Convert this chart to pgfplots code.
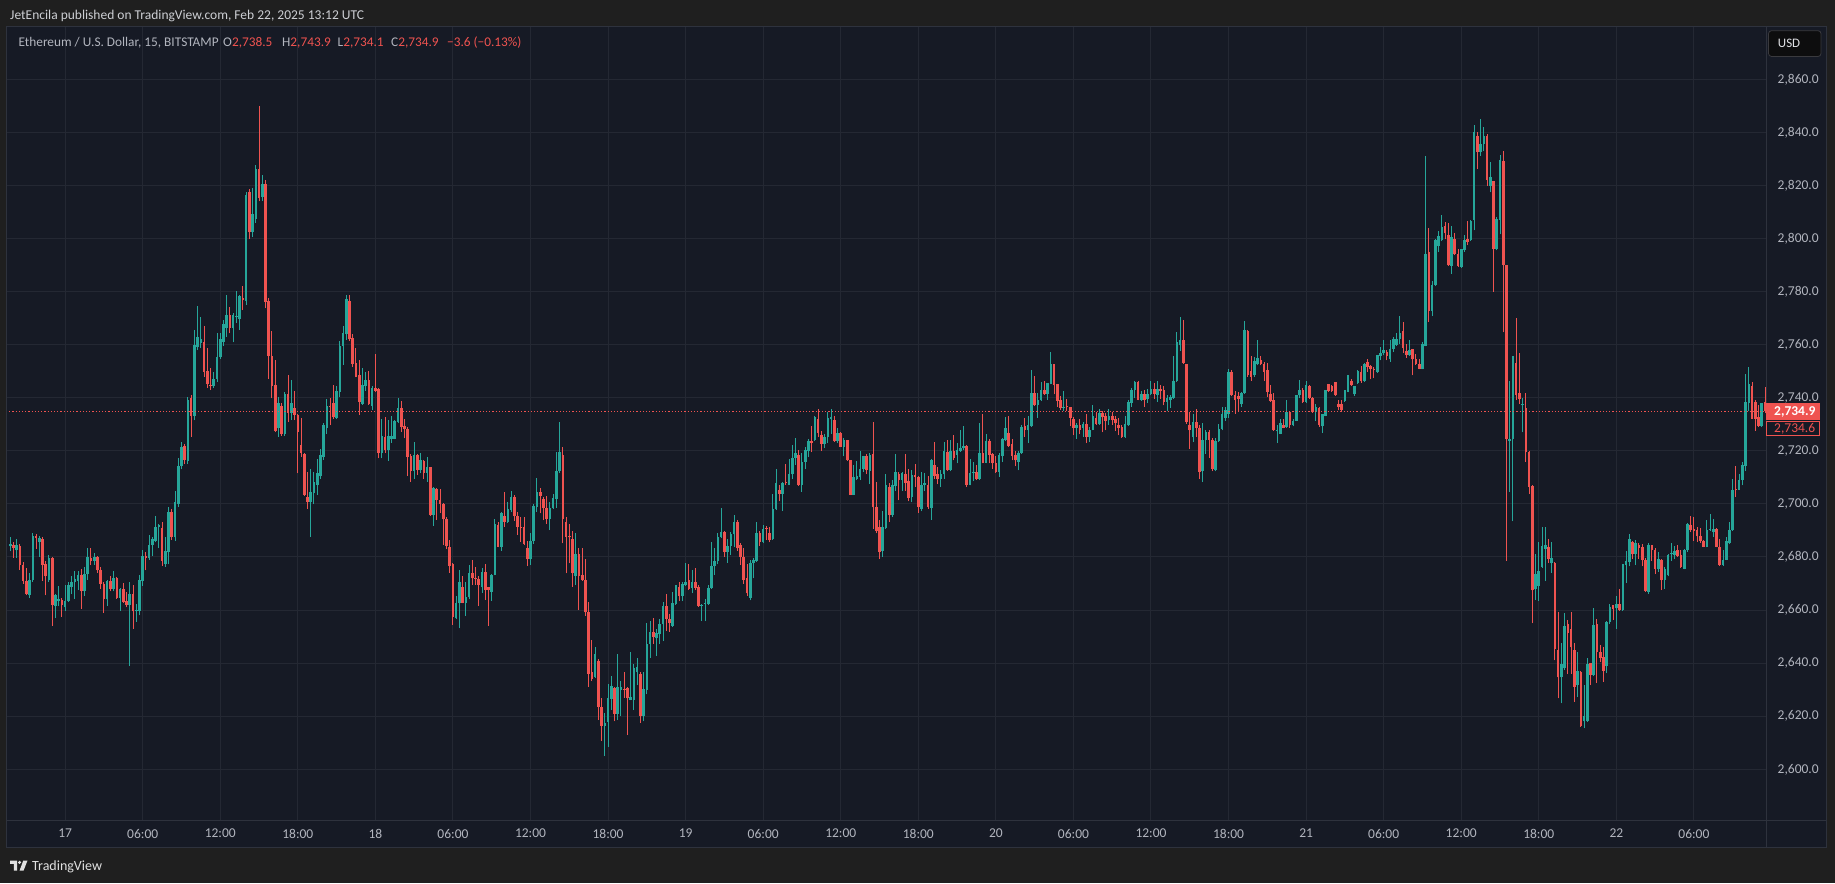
\documentclass[border=0pt]{standalone}
\usepackage{pgfplots}
\pgfplotsset{compat=1.18}
\usepackage{pgfplotstable}
\usepackage{fontspec}
\setmainfont{Carlito}
\definecolor{outerbg}{RGB}{31,31,31}
\definecolor{panelbg}{RGB}{22,26,37}
\definecolor{gridc}{RGB}{36,40,51}
\definecolor{sepc}{RGB}{46,50,61}
\definecolor{txt}{RGB}{178,181,190}
\definecolor{hdr}{RGB}{205,207,212}
\definecolor{upc}{RGB}{38,166,154}
\definecolor{dnc}{RGB}{239,83,80}
\definecolor{usdborder}{RGB}{58,58,62}
\definecolor{usdfill}{RGB}{13,13,14}
\definecolor{usdtext}{RGB}{225,226,230}
\definecolor{logoc}{RGB}{225,225,225}

\pgfplotstableread{
i o h l c
-17 2684.0 2687.7 2682.1 2685.0
-16 2684.5 2685.6 2679.8 2683.5
-15 2682.5 2686.7 2679.8 2684.5
-14 2684.0 2685.0 2675.2 2677.0
-13 2677.0 2678.0 2670.0 2671.0
-12 2671.0 2676.0 2665.5 2666.0
-11 2665.5 2674.0 2664.5 2671.5
-10 2671.5 2689.0 2670.5 2688.0
-9 2688.0 2688.7 2683.0 2687.0
-8 2685.5 2688.0 2680.0 2687.0
-7 2686.6 2687.5 2671.0 2677.0
-6 2677.5 2678.6 2665.5 2672.7
-5 2671.5 2680.7 2670.5 2679.5
-4 2679.5 2680.0 2654.0 2662.0
-3 2661.5 2666.0 2657.0 2665.5
-2 2663.4 2669.0 2661.5 2664.0
-1 2663.7 2664.4 2657.5 2662.0
0 2661.0 2669.5 2659.8 2663.5
1 2663.5 2670.4 2663.0 2669.3
2 2668.7 2672.7 2666.0 2670.4
3 2670.4 2674.6 2664.3 2671.8
4 2671.0 2674.6 2667.6 2673.4
5 2673.4 2675.3 2660.5 2667.0
6 2667.0 2676.4 2665.4 2673.5
7 2673.5 2683.5 2671.5 2680.0
8 2679.5 2683.5 2676.9 2678.5
9 2678.5 2681.5 2677.0 2680.0
10 2680.0 2680.5 2673.9 2675.0
11 2675.0 2676.4 2668.0 2670.0
12 2670.0 2670.5 2659.0 2664.0
13 2664.0 2671.5 2661.5 2671.0
14 2671.0 2672.7 2667.0 2668.0
15 2668.0 2674.6 2667.0 2672.0
16 2672.0 2672.5 2664.3 2664.5
17 2664.5 2668.5 2659.8 2668.0
18 2668.0 2670.2 2662.7 2663.0
19 2663.5 2666.7 2661.0 2662.0
20 2662.0 2670.5 2638.9 2666.0
21 2666.0 2669.4 2653.0 2659.5
22 2659.5 2662.2 2655.6 2660.0
23 2659.6 2673.4 2658.0 2671.2
24 2670.8 2682.5 2669.2 2680.5
25 2680.4 2681.8 2675.0 2679.5
26 2679.5 2688.3 2679.0 2684.5
27 2684.5 2687.6 2680.3 2686.7
28 2686.0 2695.5 2685.5 2691.4
29 2691.4 2692.3 2683.4 2691.9
30 2690.8 2693.0 2676.7 2678.4
31 2677.2 2687.6 2676.4 2682.3
32 2681.7 2698.7 2677.2 2696.9
33 2696.9 2697.9 2686.5 2687.6
34 2687.4 2705.0 2686.0 2700.8
35 2700.0 2717.4 2699.0 2714.3
36 2714.3 2723.5 2713.0 2721.5
37 2721.7 2722.6 2715.0 2716.7
38 2716.2 2740.2 2715.0 2739.2
39 2740.0 2741.0 2725.3 2733.2
40 2733.2 2765.7 2731.5 2760.0
41 2759.3 2774.7 2757.9 2762.9
42 2760.5 2770.5 2758.8 2762.0
43 2760.9 2767.0 2747.9 2749.8
44 2750.2 2758.8 2743.6 2745.0
45 2744.9 2751.2 2742.9 2744.3
46 2744.3 2749.8 2743.6 2747.0
47 2747.0 2764.3 2746.0 2755.3
48 2755.3 2764.3 2754.6 2762.2
49 2761.0 2769.2 2759.6 2767.8
50 2766.4 2778.8 2762.9 2771.2
51 2771.2 2774.3 2764.3 2766.4
52 2766.4 2772.0 2760.9 2771.2
53 2770.3 2780.3 2768.1 2770.9
54 2769.8 2778.8 2765.7 2778.4
55 2777.5 2782.2 2773.0 2776.8
56 2776.5 2817.5 2775.0 2816.5
57 2817.5 2818.5 2799.8 2802.3
58 2802.3 2818.9 2800.5 2809.2
59 2807.5 2827.6 2806.0 2826.2
60 2826.2 2850.0 2814.0 2815.4
61 2815.7 2823.9 2814.3 2820.7
62 2820.7 2822.1 2773.7 2776.0
63 2776.5 2777.5 2747.0 2755.8
64 2755.8 2765.3 2739.8 2744.4
65 2744.8 2754.2 2727.0 2727.5
66 2728.5 2740.4 2725.4 2737.9
67 2736.9 2738.0 2725.5 2726.2
68 2726.2 2742.0 2725.6 2741.3
69 2741.3 2748.6 2731.0 2734.4
70 2734.4 2746.7 2731.6 2737.9
71 2736.0 2742.6 2731.6 2733.5
72 2733.5 2734.0 2711.5 2727.2
73 2722.2 2732.3 2717.6 2719.1
74 2718.8 2719.3 2703.0 2703.4
75 2702.7 2712.2 2698.0 2700.8
76 2700.8 2713.0 2687.7 2704.5
77 2704.0 2712.2 2700.0 2708.4
78 2707.2 2716.9 2703.4 2711.8
79 2710.5 2720.6 2709.3 2718.4
80 2717.8 2730.6 2716.6 2729.7
81 2728.7 2739.5 2726.4 2736.9
82 2736.7 2739.8 2729.7 2736.4
83 2738.2 2744.8 2732.0 2732.6
84 2732.3 2744.4 2731.9 2742.6
85 2742.3 2761.2 2740.2 2759.5
86 2759.5 2767.1 2752.4 2764.5
87 2763.9 2778.7 2761.8 2777.2
88 2776.6 2778.7 2761.5 2762.0
89 2762.4 2764.0 2751.5 2752.7
90 2753.0 2758.6 2747.7 2748.0
91 2748.6 2754.2 2733.5 2738.5
92 2737.7 2751.1 2737.3 2744.8
93 2744.4 2749.8 2742.7 2746.7
94 2746.7 2750.2 2737.3 2737.7
95 2737.0 2744.4 2735.4 2743.8
96 2743.6 2756.5 2742.0 2742.7
97 2743.2 2743.5 2717.2 2719.1
98 2719.1 2731.9 2717.2 2725.6
99 2725.1 2732.9 2719.1 2720.3
100 2720.3 2731.6 2716.3 2725.6
101 2724.3 2733.1 2723.1 2725.5
102 2724.5 2731.6 2724.3 2731.4
103 2731.0 2739.8 2730.4 2736.3
104 2736.3 2738.9 2727.2 2729.1
105 2729.5 2731.9 2724.7 2728.2
106 2728.2 2729.0 2710.5 2717.8
107 2718.2 2718.8 2708.4 2712.5
108 2712.5 2723.2 2709.3 2718.4
109 2718.4 2718.9 2710.9 2712.8
110 2712.8 2719.1 2711.5 2716.6
111 2716.0 2716.6 2709.3 2711.8
112 2711.8 2717.8 2708.4 2713.8
113 2713.8 2714.0 2695.5 2695.8
114 2695.8 2706.5 2691.7 2705.9
115 2705.5 2706.0 2694.0 2701.5
116 2701.5 2705.5 2696.5 2700.0
117 2700.0 2700.5 2684.5 2694.2
118 2694.5 2695.1 2682.9 2684.3
119 2683.6 2686.4 2674.0 2676.7
120 2677.4 2677.8 2654.4 2657.5
121 2656.9 2665.3 2656.5 2662.8
122 2662.5 2675.1 2653.1 2670.5
123 2668.6 2672.8 2662.5 2662.8
124 2662.8 2670.7 2657.9 2665.1
125 2664.8 2677.0 2664.0 2673.8
126 2673.8 2678.9 2669.4 2671.9
127 2672.0 2676.4 2669.4 2671.7
128 2671.7 2672.9 2661.5 2669.5
129 2668.6 2675.7 2666.6 2674.2
130 2674.2 2677.4 2663.8 2667.6
131 2668.6 2668.6 2654.0 2667.6
132 2666.9 2673.5 2663.5 2673.3
133 2673.3 2694.2 2673.1 2692.4
134 2692.1 2693.3 2683.6 2683.9
135 2683.9 2696.8 2682.4 2696.5
136 2695.5 2704.6 2691.4 2693.3
137 2693.3 2700.9 2692.9 2698.0
138 2697.7 2705.0 2696.8 2702.7
139 2702.5 2703.4 2693.7 2695.3
140 2695.3 2697.1 2688.3 2691.4
141 2691.4 2694.9 2685.8 2691.0
142 2691.4 2695.2 2684.5 2684.9
143 2683.3 2686.2 2676.6 2679.1
144 2679.1 2688.9 2677.0 2686.0
145 2686.0 2700.0 2684.9 2699.2
146 2698.7 2709.6 2697.1 2704.3
147 2704.3 2706.1 2696.4 2703.0
148 2701.8 2702.7 2693.9 2698.3
149 2698.5 2703.1 2692.4 2694.3
150 2694.3 2700.8 2690.1 2698.3
151 2698.3 2703.6 2698.0 2702.3
152 2702.0 2719.4 2698.5 2712.4
153 2712.4 2730.7 2711.5 2719.6
154 2718.6 2721.5 2685.1 2694.3
155 2693.3 2695.2 2673.8 2687.5
156 2687.9 2692.6 2677.6 2687.4
157 2686.6 2689.7 2668.8 2673.8
158 2672.9 2688.9 2669.4 2681.3
159 2681.0 2683.2 2660.0 2672.9
160 2673.2 2683.2 2671.0 2671.5
161 2671.3 2679.1 2657.8 2659.1
162 2659.1 2662.9 2631.1 2636.1
163 2636.7 2648.9 2633.2 2634.2
164 2634.8 2646.2 2634.5 2643.3
165 2640.9 2641.4 2618.5 2623.5
166 2623.5 2626.9 2610.6 2616.4
167 2616.4 2621.4 2605.0 2617.4
168 2617.8 2632.3 2608.5 2626.7
169 2626.4 2635.2 2622.3 2631.5
170 2630.5 2631.1 2618.1 2621.0
171 2621.0 2643.3 2618.5 2631.1
172 2630.0 2633.2 2620.2 2631.0
173 2630.4 2636.5 2626.9 2630.0
174 2630.5 2631.0 2612.9 2626.7
175 2626.2 2644.3 2626.0 2627.3
176 2626.2 2639.5 2622.3 2638.3
177 2636.5 2642.0 2631.7 2638.5
178 2636.1 2636.5 2617.5 2620.1
179 2620.1 2636.5 2618.1 2630.1
180 2630.0 2655.0 2628.2 2647.4
181 2647.4 2655.8 2642.0 2651.6
182 2651.6 2657.1 2647.4 2650.0
183 2649.3 2652.8 2642.8 2651.2
184 2650.8 2656.8 2647.4 2654.6
185 2654.6 2662.9 2648.3 2661.6
186 2661.6 2665.9 2652.1 2656.6
187 2656.8 2658.7 2651.8 2655.3
188 2654.1 2666.9 2653.7 2662.5
189 2662.1 2669.6 2661.9 2669.4
190 2668.8 2670.7 2663.4 2665.4
191 2665.4 2670.4 2663.4 2670.0
192 2669.6 2677.6 2669.2 2670.6
193 2671.3 2677.2 2667.5 2668.1
194 2668.4 2675.1 2666.3 2670.4
195 2670.6 2675.7 2667.5 2668.4
196 2668.8 2669.4 2661.2 2661.6
197 2661.6 2662.1 2655.8 2662.0
198 2662.2 2664.1 2655.8 2662.6
199 2662.1 2669.4 2661.9 2668.4
200 2668.4 2685.5 2668.1 2676.7
201 2676.7 2683.5 2673.2 2678.4
202 2678.4 2688.9 2677.2 2687.6
203 2687.6 2698.3 2687.2 2689.5
204 2689.5 2689.7 2680.0 2682.0
205 2682.0 2686.7 2677.9 2684.3
206 2684.3 2689.5 2680.7 2688.5
207 2688.5 2695.8 2683.8 2693.0
208 2693.0 2693.9 2682.2 2683.2
209 2684.7 2685.1 2676.9 2680.0
210 2680.0 2683.5 2670.0 2671.3
211 2671.9 2677.2 2665.4 2666.3
212 2664.6 2678.8 2663.7 2677.9
213 2677.6 2679.7 2671.9 2678.8
214 2678.4 2693.3 2678.2 2688.9
215 2688.9 2689.7 2684.2 2685.7
216 2685.7 2692.0 2685.1 2690.7
217 2691.0 2691.8 2686.4 2690.5
218 2688.9 2691.4 2685.5 2686.4
219 2686.7 2703.9 2686.4 2697.9
220 2697.9 2713.1 2697.7 2707.7
221 2705.2 2707.3 2701.0 2703.9
222 2703.9 2708.3 2697.3 2708.0
223 2708.2 2715.2 2707.3 2707.7
224 2707.3 2717.1 2707.2 2711.1
225 2711.1 2722.2 2709.3 2717.4
226 2717.4 2724.7 2714.6 2719.0
227 2718.6 2720.3 2706.8 2707.3
228 2707.0 2719.0 2704.6 2715.9
229 2715.9 2721.5 2713.1 2720.3
230 2719.9 2724.5 2717.6 2723.6
231 2723.6 2729.2 2719.5 2722.9
232 2723.9 2733.0 2723.6 2732.7
233 2732.1 2735.8 2725.4 2726.7
234 2725.8 2727.4 2719.9 2722.6
235 2722.6 2726.2 2721.0 2725.4
236 2725.2 2734.6 2722.9 2732.3
237 2732.1 2735.8 2726.4 2732.7
238 2731.7 2733.3 2723.3 2723.6
239 2723.6 2728.7 2722.9 2726.7
240 2726.7 2727.0 2721.4 2721.6
241 2721.6 2724.9 2717.9 2724.2
242 2723.9 2724.2 2716.1 2716.6
243 2716.4 2716.6 2703.3 2703.5
244 2703.5 2714.5 2703.3 2710.0
245 2709.2 2716.1 2709.0 2710.4
246 2710.3 2720.1 2709.0 2713.3
247 2713.2 2718.2 2712.0 2717.9
248 2717.9 2718.9 2711.1 2712.6
249 2712.3 2719.1 2707.5 2718.3
250 2718.7 2730.8 2690.6 2698.7
251 2699.0 2708.2 2688.9 2689.9
252 2691.2 2694.0 2679.2 2681.8
253 2682.4 2697.5 2680.1 2691.4
254 2691.0 2711.1 2690.6 2707.3
255 2706.3 2707.8 2693.1 2696.0
256 2696.0 2709.1 2695.0 2707.3
257 2706.7 2718.9 2704.8 2712.2
258 2711.3 2712.0 2701.3 2709.0
259 2709.0 2712.0 2704.8 2711.6
260 2711.3 2718.9 2704.8 2707.8
261 2708.8 2713.2 2701.0 2702.3
262 2702.5 2712.6 2700.6 2711.0
263 2711.0 2715.1 2706.3 2710.0
264 2710.3 2710.7 2696.5 2699.0
265 2698.1 2712.0 2697.2 2707.3
266 2707.3 2711.6 2704.8 2707.8
267 2707.3 2710.7 2698.1 2699.0
268 2698.5 2717.0 2694.1 2716.6
269 2714.8 2723.3 2709.4 2710.7
270 2711.3 2713.8 2707.5 2709.4
271 2709.5 2712.8 2706.3 2711.3
272 2711.1 2723.3 2709.4 2720.1
273 2719.5 2723.9 2712.5 2712.8
274 2712.8 2723.9 2712.3 2719.9
275 2720.1 2725.8 2716.4 2717.4
276 2718.5 2722.9 2715.3 2720.2
277 2720.0 2727.7 2719.7 2721.2
278 2721.2 2729.2 2720.2 2721.9
279 2721.9 2722.2 2706.3 2707.2
280 2707.2 2717.0 2707.0 2711.8
281 2711.6 2715.7 2708.6 2712.0
282 2712.0 2714.5 2709.0 2709.2
283 2709.4 2730.4 2709.0 2719.1
284 2719.1 2733.7 2715.3 2715.6
285 2715.6 2726.2 2715.3 2723.6
286 2723.6 2724.5 2715.3 2718.6
287 2718.9 2719.1 2713.2 2715.3
288 2715.3 2717.9 2711.8 2712.0
289 2712.0 2719.1 2710.1 2718.6
290 2717.9 2724.9 2715.7 2724.5
291 2723.9 2732.7 2723.6 2728.7
292 2726.8 2733.0 2721.6 2722.0
293 2722.4 2724.5 2716.4 2718.2
294 2718.6 2719.9 2714.1 2716.4
295 2715.7 2720.1 2712.6 2719.1
296 2719.1 2729.6 2718.9 2728.9
297 2729.2 2732.3 2725.4 2727.7
298 2727.7 2733.3 2722.9 2729.6
299 2729.2 2750.3 2729.0 2741.8
300 2741.8 2748.1 2736.8 2737.1
301 2737.1 2741.8 2732.5 2739.0
302 2739.0 2745.9 2738.7 2743.0
303 2743.0 2746.5 2741.0 2741.3
304 2741.3 2745.7 2739.2 2745.5
305 2745.3 2757.1 2745.0 2752.6
306 2752.6 2752.8 2741.3 2744.7
307 2745.0 2745.2 2736.7 2738.7
308 2739.0 2740.5 2735.5 2736.2
309 2736.1 2742.5 2735.0 2736.7
310 2736.8 2739.6 2735.0 2736.5
311 2736.5 2736.7 2729.2 2732.4
312 2732.1 2732.7 2725.8 2728.7
313 2728.7 2730.4 2724.5 2729.6
314 2729.6 2732.1 2726.2 2727.7
315 2728.7 2730.8 2725.4 2730.2
316 2730.2 2733.7 2722.9 2725.2
317 2725.2 2728.9 2723.3 2728.0
318 2727.9 2737.1 2727.7 2733.3
319 2732.5 2734.6 2729.9 2730.2
320 2730.2 2735.8 2729.9 2734.2
321 2734.2 2735.0 2727.0 2732.7
322 2733.3 2734.2 2727.7 2731.4
323 2731.6 2735.8 2729.9 2733.3
324 2733.3 2734.6 2729.9 2731.6
325 2732.1 2733.3 2727.4 2730.4
326 2729.6 2732.5 2725.8 2728.7
327 2728.9 2729.9 2724.9 2725.2
328 2725.2 2733.3 2724.9 2730.0
329 2729.6 2739.0 2729.4 2738.4
330 2738.2 2743.8 2736.7 2743.0
331 2743.0 2746.3 2740.0 2745.9
332 2745.9 2746.5 2739.0 2739.2
333 2739.2 2742.5 2738.7 2741.3
334 2741.3 2743.0 2736.5 2739.2
335 2739.5 2743.4 2738.0 2741.5
336 2741.3 2746.3 2740.9 2743.4
337 2743.3 2745.5 2739.6 2741.5
338 2740.9 2746.5 2738.4 2743.3
339 2743.3 2744.7 2739.6 2742.5
340 2742.8 2744.3 2737.1 2738.4
341 2738.4 2740.9 2735.0 2740.0
342 2739.2 2740.9 2736.2 2740.3
343 2739.9 2755.6 2739.6 2746.5
344 2746.3 2764.8 2745.9 2761.0
345 2759.7 2770.4 2757.6 2761.9
346 2761.9 2769.2 2752.8 2753.1
347 2752.6 2752.8 2730.2 2730.8
348 2729.6 2734.6 2720.8 2727.7
349 2725.2 2733.7 2723.3 2730.8
350 2730.8 2735.8 2725.2 2728.7
351 2728.7 2729.6 2709.4 2712.0
352 2712.3 2730.4 2708.2 2723.9
353 2723.9 2727.9 2718.9 2727.0
354 2727.0 2727.7 2717.4 2724.2
355 2723.9 2724.9 2712.3 2713.2
356 2712.6 2724.9 2712.3 2723.6
357 2723.6 2730.2 2723.3 2728.3
358 2728.3 2736.7 2727.7 2733.7
359 2732.5 2736.7 2731.4 2735.5
360 2734.0 2750.9 2732.5 2749.7
361 2749.7 2750.6 2740.5 2740.9
362 2740.9 2742.5 2734.0 2739.2
363 2740.6 2742.1 2734.6 2739.5
364 2737.5 2742.1 2736.7 2741.8
365 2741.8 2769.0 2741.5 2765.7
366 2765.2 2765.4 2748.0 2748.4
367 2750.0 2755.6 2746.5 2748.0
368 2748.4 2755.3 2747.8 2753.8
369 2752.6 2761.9 2752.2 2755.0
370 2754.1 2755.6 2752.2 2752.6
371 2752.8 2753.5 2746.3 2749.7
372 2750.6 2753.1 2740.3 2742.1
373 2741.5 2744.7 2738.4 2738.7
374 2739.2 2741.8 2727.4 2727.7
375 2727.4 2729.9 2722.9 2727.7
376 2726.4 2732.1 2726.2 2730.4
377 2729.9 2732.1 2728.5 2728.7
378 2728.9 2739.0 2728.7 2734.6
379 2734.6 2734.8 2728.7 2729.6
380 2729.6 2732.1 2729.2 2731.4
381 2731.4 2741.0 2731.2 2740.9
382 2740.9 2746.8 2740.0 2743.0
383 2743.0 2743.8 2738.0 2738.4
384 2738.4 2746.5 2738.0 2744.7
385 2744.3 2744.7 2739.6 2740.0
386 2740.0 2740.3 2734.4 2734.6
387 2734.6 2737.5 2731.2 2736.5
388 2736.2 2736.7 2728.9 2729.9
389 2729.2 2733.9 2726.7 2733.7
390 2733.3 2743.0 2733.0 2742.8
391 2745.0 2745.2 2742.1 2742.5
392 2744.3 2744.7 2742.1 2742.5
393 2745.9 2746.1 2740.7 2740.9
394 2737.7 2739.0 2735.2 2736.5
395 2737.7 2739.0 2735.0 2735.2
396 2738.6 2743.0 2738.4 2742.8
397 2742.2 2748.6 2742.0 2748.4
398 2746.2 2747.2 2744.5 2744.7
399 2741.3 2744.5 2740.6 2744.3
400 2745.7 2750.3 2745.3 2749.9
401 2749.7 2752.0 2745.7 2746.2
402 2746.5 2753.2 2745.9 2752.8
403 2753.5 2754.7 2749.7 2751.6
404 2752.0 2752.5 2746.9 2750.7
405 2751.0 2751.6 2747.4 2750.3
406 2749.7 2756.2 2749.4 2756.0
407 2755.7 2759.1 2754.1 2757.0
408 2756.7 2761.6 2756.0 2757.9
409 2757.2 2757.9 2754.1 2755.7
410 2754.5 2761.6 2753.5 2758.5
411 2758.5 2762.9 2757.2 2762.0
412 2759.9 2764.5 2759.6 2762.2
413 2762.0 2770.8 2760.4 2764.3
414 2765.0 2768.6 2757.0 2758.7
415 2757.5 2760.4 2755.0 2756.0
416 2756.0 2761.6 2755.7 2757.9
417 2758.2 2758.4 2748.4 2754.5
418 2754.5 2756.6 2752.5 2752.8
419 2752.8 2754.7 2750.7 2750.9
420 2750.9 2761.0 2750.7 2760.4
421 2759.5 2831.1 2759.4 2794.3
422 2795.0 2803.8 2768.6 2772.6
423 2772.6 2783.9 2770.8 2782.6
424 2782.6 2799.8 2782.1 2799.4
425 2797.2 2802.8 2795.0 2801.0
426 2799.4 2808.8 2799.0 2804.4
427 2804.8 2806.3 2799.7 2801.9
428 2801.5 2806.0 2789.7 2789.9
429 2789.7 2804.8 2786.8 2800.6
430 2799.8 2801.9 2793.7 2794.0
431 2794.3 2796.0 2789.3 2789.7
432 2789.3 2796.2 2789.0 2796.0
433 2795.6 2801.3 2795.0 2799.4
434 2799.8 2806.5 2797.5 2798.7
435 2799.4 2806.8 2799.0 2806.5
436 2806.9 2842.8 2803.1 2840.0
437 2838.7 2840.3 2826.2 2832.7
438 2832.7 2845.0 2831.2 2835.5
439 2835.8 2842.1 2833.0 2838.7
440 2838.7 2839.2 2819.7 2822.0
441 2819.7 2828.7 2817.4 2823.3
442 2821.5 2821.8 2780.0 2795.9
443 2796.2 2808.0 2795.5 2807.2
444 2807.0 2831.4 2801.6 2829.5
445 2829.1 2832.9 2764.6 2790.1
446 2790.0 2790.1 2678.6 2724.3
447 2723.6 2746.5 2704.5 2724.3
448 2724.3 2755.8 2693.4 2755.6
449 2753.2 2770.0 2739.1 2741.1
450 2741.7 2757.0 2737.7 2739.5
451 2737.1 2740.0 2727.0 2737.5
452 2736.2 2741.7 2715.8 2719.6
453 2719.6 2720.0 2703.7 2706.4
454 2706.8 2707.0 2655.0 2667.4
455 2667.8 2681.3 2663.8 2673.6
456 2669.0 2685.7 2663.4 2674.9
457 2676.3 2691.3 2675.9 2684.0
458 2683.1 2691.3 2670.9 2684.4
459 2683.6 2686.6 2677.9 2679.3
460 2677.6 2685.7 2674.1 2679.8
461 2677.9 2678.2 2641.0 2645.4
462 2645.1 2659.3 2626.7 2634.6
463 2634.6 2647.7 2624.8 2639.6
464 2638.0 2658.8 2637.5 2653.9
465 2654.7 2656.2 2635.9 2651.4
466 2652.7 2659.3 2636.1 2645.9
467 2644.9 2647.7 2625.4 2631.1
468 2631.7 2644.3 2627.3 2637.1
469 2636.7 2637.1 2616.0 2616.3
470 2618.1 2631.7 2615.4 2619.9
471 2618.1 2641.8 2617.8 2639.6
472 2639.9 2640.1 2631.7 2635.5
473 2635.5 2660.6 2635.1 2654.3
474 2654.9 2656.8 2632.6 2644.3
475 2644.3 2646.8 2640.5 2642.1
476 2642.4 2646.1 2633.0 2637.1
477 2638.9 2656.0 2636.4 2655.6
478 2655.6 2662.2 2654.7 2661.2
479 2661.8 2662.0 2656.4 2660.3
480 2660.6 2665.2 2652.7 2662.2
481 2662.2 2668.1 2659.8 2660.0
482 2660.0 2677.5 2659.8 2677.3
483 2676.9 2682.3 2670.2 2678.5
484 2678.1 2688.6 2676.5 2686.9
485 2685.7 2686.0 2679.4 2681.0
486 2681.0 2686.3 2676.9 2685.3
487 2684.4 2685.3 2679.4 2683.2
488 2683.8 2684.8 2676.5 2678.8
489 2679.0 2679.8 2666.9 2667.2
490 2666.8 2685.3 2666.0 2684.4
491 2684.4 2684.6 2678.5 2682.8
492 2682.8 2683.2 2673.5 2675.4
493 2675.4 2681.9 2674.4 2679.4
494 2679.0 2679.2 2667.5 2671.2
495 2671.2 2676.3 2668.1 2675.6
496 2673.1 2681.0 2672.7 2680.6
497 2681.0 2685.3 2678.5 2681.5
498 2680.6 2684.0 2679.4 2682.3
499 2682.5 2684.4 2680.0 2680.3
500 2680.6 2682.8 2676.0 2676.3
501 2675.6 2683.0 2675.3 2682.8
502 2682.5 2692.8 2681.9 2692.3
503 2692.0 2695.3 2689.4 2690.3
504 2690.7 2695.1 2686.0 2689.8
505 2690.3 2691.3 2685.7 2687.8
506 2687.8 2691.1 2685.3 2686.1
507 2686.1 2686.3 2683.6 2683.8
508 2683.8 2694.1 2683.6 2690.0
509 2690.0 2696.1 2689.8 2690.6
510 2689.4 2694.5 2687.6 2690.7
511 2690.7 2690.9 2683.6 2683.8
512 2683.8 2686.6 2676.7 2676.9
513 2676.9 2682.5 2676.7 2679.0
514 2679.0 2687.6 2678.8 2686.0
515 2685.3 2693.2 2684.8 2690.3
516 2690.0 2709.5 2689.8 2705.4
517 2705.8 2714.2 2702.6 2705.1
518 2705.4 2711.4 2705.2 2709.1
519 2709.1 2715.8 2707.0 2714.7
520 2714.2 2748.8 2712.4 2738.4
521 2738.0 2751.5 2735.0 2745.0
522 2744.6 2745.9 2731.9 2732.1
523 2738.4 2739.2 2727.5 2732.1
524 2732.7 2737.1 2729.0 2729.2
525 2729.2 2738.2 2729.0 2738.0
526 2738.5 2743.9 2734.1 2734.9
}\candles

\begin{document}
\begin{tikzpicture}[x=1pt,y=1pt]
% origin = lower left corner of the plot area (image pixel 6,820)
\fill[outerbg] (-6,-63) rectangle (1829,820);
\fill[panelbg] (0,-27) rectangle (1820,793);
% header
\node[anchor=base west, inner sep=0, text=hdr, font=\fontsize{13.5}{15}\selectfont] at (4,800) {JetEncila published on TradingView.com, Feb 22, 2025 13:12 UTC};

\begin{axis}[
  anchor=south west,
  scale only axis, width=1760pt, height=793pt,
  xmin=-18.3, xmax=526.3, ymin=2580.9, ymax=2879.7,
  axis line style={draw=none},
  major tick length=0pt,
  grid=major,
  major grid style={draw=gridc, line width=1pt},
  xtick={0,24,...,504},
  xticklabels={17,06:00,12:00,18:00,18,06:00,12:00,18:00,19,06:00,12:00,18:00,20,06:00,12:00,18:00,21,06:00,12:00,18:00,22,06:00},
  ytick={2600,2620,...,2860},
  yticklabel pos=right,
  ticklabel style={text=txt, font=\fontsize{13.5}{15}\selectfont},
  xticklabel style={anchor=center, yshift=-13.5pt},
  yticklabel style={anchor=west, xshift=8.2pt,
    /pgf/number format/.cd, fixed, fixed zerofill, precision=1, 1000 sep={,}, assume math mode=true},
  unbounded coords=discard,
]
% up candles
\addplot[draw=none, mark=none, forget plot, error bars/.cd, y dir=plus, y explicit, error mark=none,
  error bar style={draw=upc, solid, line width=1pt}]
  table[x=i, y expr={\thisrow{c}>=\thisrow{o} ? \thisrow{l} : nan}, y error expr={\thisrow{h}-\thisrow{l}}] {\candles};
\addplot[draw=none, mark=none, forget plot, error bars/.cd, y dir=plus, y explicit, error mark=none,
  error bar style={draw=upc, solid, line width=2.6pt}]
  table[x=i, y expr={\thisrow{c}>=\thisrow{o} ? \thisrow{o} : nan}, y error expr={max(\thisrow{c}-\thisrow{o},0.4)}] {\candles};
% down candles
\addplot[draw=none, mark=none, forget plot, error bars/.cd, y dir=plus, y explicit, error mark=none,
  error bar style={draw=dnc, solid, line width=1pt}]
  table[x=i, y expr={\thisrow{c}<\thisrow{o} ? \thisrow{l} : nan}, y error expr={\thisrow{h}-\thisrow{l}}] {\candles};
\addplot[draw=none, mark=none, forget plot, error bars/.cd, y dir=plus, y explicit, error mark=none,
  error bar style={draw=dnc, solid, line width=2.6pt}]
  table[x=i, y expr={\thisrow{c}<\thisrow{o} ? \thisrow{c} : nan}, y error expr={max(\thisrow{o}-\thisrow{c},0.4)}] {\candles};
% last price line
\addplot[dnc, line width=1pt, dash pattern=on 1.2pt off 2pt, forget plot] coordinates {(-18.3,2734.9) (526.3,2734.9)};
\end{axis}

% separators and border
\draw[sepc, line width=1pt] (1760,-27) -- (1760,793);
\draw[sepc, line width=1pt] (0,0) -- (1820,0);
\draw[sepc, line width=1pt] (0,-27) rectangle (1820,793);

% legend row
\begin{scope}[font=\fontsize{13.3}{15}\selectfont]
\node[anchor=base west, inner sep=0, text=txt] at (12.4,773.5) {Ethereum / U.S. Dollar, 15, BITSTAMP};
\node[anchor=base west, inner sep=0] at (217,773.5) {\textcolor{txt}{O}\textcolor{dnc}{2,738.5}};
\node[anchor=base west, inner sep=0] at (276,773.5) {\textcolor{txt}{H}\textcolor{dnc}{2,743.9}};
\node[anchor=base west, inner sep=0] at (331.5,773.5) {\textcolor{txt}{L}\textcolor{dnc}{2,734.1}};
\node[anchor=base west, inner sep=0] at (385,773.5) {\textcolor{txt}{C}\textcolor{dnc}{2,734.9}};
\node[anchor=base west, inner sep=0, text=dnc] at (441,773.5) {−3.6 (−0.13\%)};
\end{scope}

% USD box
\draw[draw=usdborder, fill=usdfill, rounded corners=3pt, line width=0.8pt] (1762.5,763.5) rectangle (1815,789.3);
\node[anchor=base west, inner sep=0, text=usdtext, font=\fontsize{13}{15}\selectfont] at (1771.7,772) {USD};

% price labels
\fill[dnc] (1760,400) rectangle (1813.5,417);
\node[anchor=base west, inner sep=0, text=white, font=\bfseries\fontsize{13.5}{15}\selectfont] at (1768,404) {2,734.9};
\draw[dnc, fill=panelbg, line width=0.8pt] (1760.4,384.4) rectangle (1813,399);
\node[anchor=base west, inner sep=0, text=dnc, font=\fontsize{13.5}{15}\selectfont] at (1768,387.3) {2,734.6};

% footer logo
\fill[logoc] (4,-40.5) -- (11.2,-40.5) -- (11.2,-50.5) -- (7.8,-50.5) -- (7.8,-43.8) -- (4,-43.8) -- cycle;
\fill[logoc] (13.6,-42.4) circle (1.7);
\fill[logoc] (17.3,-40.5) -- (21.5,-40.5) -- (17.6,-50.5) -- (13.6,-50.5) -- cycle;
\node[anchor=base west, inner sep=0, text=logoc, font=\fontsize{14}{16}\selectfont] at (26,-50) {TradingView};
\end{tikzpicture}
\end{document}
